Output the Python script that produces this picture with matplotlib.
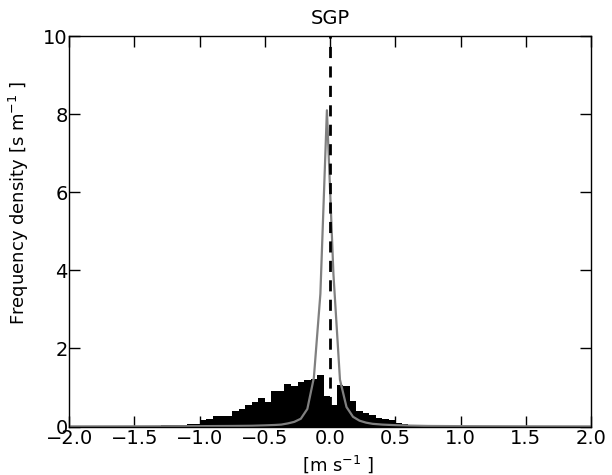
import numpy as np
import matplotlib
matplotlib.use('Agg')
import matplotlib.pyplot as plt

# histogram bin edges (80 bins of 0.05 from -2 to 2) and densities
bin_edges = np.linspace(-2.0, 2.0, 81)
hist_density = [
    0.0, 0.0, 0.003, 0.003, 0.005, 0.008, 0.01, 0.01, 0.01, 0.015,
    0.012, 0.02, 0.02, 0.025, 0.03, 0.035, 0.05, 0.045, 0.06, 0.07,
    0.16, 0.19, 0.27, 0.27, 0.28, 0.40, 0.46, 0.56, 0.63, 0.74,
    0.62, 0.91, 0.91, 1.10, 1.03, 1.15, 1.18, 1.22, 1.32, 0.77,
    0.56, 1.07, 1.03, 0.66, 0.40, 0.34, 0.30, 0.22, 0.19, 0.16,
    0.10, 0.07, 0.05, 0.04, 0.03, 0.03, 0.02, 0.02, 0.015, 0.015,
    0.01, 0.01, 0.01, 0.008, 0.005, 0.003, 0.003, 0.003, 0.002, 0.002,
    0.002, 0.002, 0.001, 0.001, 0.001, 0.0, 0.0, 0.0, 0.0, 0.0,
]

# grey reference curve
curve_x = [-2.0, -1.5, -1.0, -0.75, -0.6, -0.5, -0.425, -0.375, -0.325, -0.275,
           -0.225, -0.175, -0.125, -0.075, -0.025, 0.025, 0.075, 0.125, 0.175,
           0.225, 0.275, 0.325, 0.4, 0.5, 0.6, 0.75, 1.0, 1.5, 2.0]
curve_y = [0.004, 0.006, 0.01, 0.015, 0.02, 0.03, 0.04, 0.05, 0.08, 0.12,
           0.2, 0.45, 1.25, 3.4, 8.1, 3.9, 1.2, 0.5, 0.25,
           0.15, 0.1, 0.07, 0.05, 0.035, 0.025, 0.015, 0.01, 0.006, 0.004]

x_ticks = [-2.0, -1.5, -1.0, -0.5, 0.0, 0.5, 1.0, 1.5, 2.0]
y_ticks = [0, 2, 4, 6, 8, 10]

fig = plt.figure(figsize=(6.12, 4.75), dpi=100)
ax = fig.add_axes([0.113, 0.102, 0.853, 0.822])

ax.stairs(hist_density, bin_edges, fill=True, color='black', linewidth=0)
ax.plot(curve_x, curve_y, color='#808080', linewidth=1.6)
ax.axvline(0.0, color='black', linestyle='--', linewidth=2, dashes=(4, 3))

ax.set_xlim(-2, 2)
ax.set_ylim(0, 10)
ax.set_xticks(x_ticks)
ax.set_xticklabels([f'{t:.1f}'.replace('-', '\u2212') for t in x_ticks])
ax.set_yticks(y_ticks)
ax.tick_params(direction='in', length=8, width=1, top=True, right=True,
               labelsize=14)
ax.tick_params(axis='x', pad=2)
ax.tick_params(axis='y', pad=1)
for s in ax.spines.values():
    s.set_linewidth(1)

ax.set_title('SGP', fontsize=14, pad=9)
ax.set_ylabel('Frequency density [s m$^{-1}$ ]', fontsize=13)
ax.yaxis.set_label_coords(-0.073, 0.573)
ax.set_xlabel('[m s$^{-1}$ ]', fontsize=13)
ax.xaxis.set_label_coords(0.515, -0.068)

fig.savefig('out.png', dpi=100)
